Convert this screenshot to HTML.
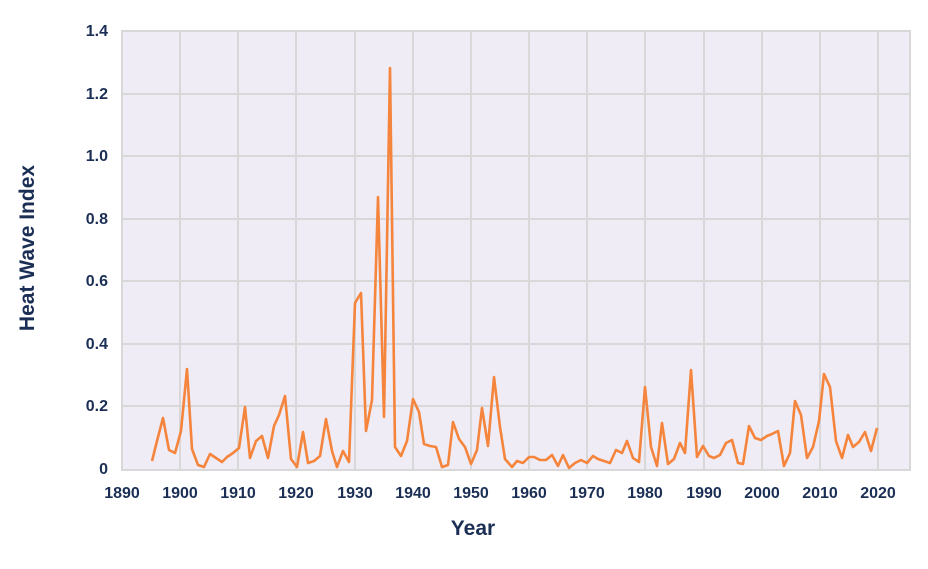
<!DOCTYPE html>
<html><head><meta charset="utf-8"><style>
body{margin:0;background:#fff;}
svg text{font-family:"Liberation Sans",sans-serif;font-weight:bold;fill:#1b2f55;}
</style></head><body>
<svg width="928" height="564" xmlns="http://www.w3.org/2000/svg">
<rect x="122" y="31" width="788" height="439" fill="#efecf5"/>
<g stroke="#d8d8d8" stroke-width="2" fill="none">
<line x1="122" y1="94" x2="910" y2="94"/><line x1="122" y1="156" x2="910" y2="156"/>
<line x1="122" y1="219" x2="910" y2="219"/><line x1="122" y1="281" x2="910" y2="281"/>
<line x1="122" y1="344" x2="910" y2="344"/><line x1="122" y1="406" x2="910" y2="406"/>
<line x1="180" y1="31" x2="180" y2="470"/><line x1="238" y1="31" x2="238" y2="470"/>
<line x1="296" y1="31" x2="296" y2="470"/><line x1="355" y1="31" x2="355" y2="470"/>
<line x1="413" y1="31" x2="413" y2="470"/><line x1="471" y1="31" x2="471" y2="470"/>
<line x1="529" y1="31" x2="529" y2="470"/><line x1="587" y1="31" x2="587" y2="470"/>
<line x1="645" y1="31" x2="645" y2="470"/><line x1="704" y1="31" x2="704" y2="470"/>
<line x1="762" y1="31" x2="762" y2="470"/><line x1="820" y1="31" x2="820" y2="470"/>
<line x1="878" y1="31" x2="878" y2="470"/>
<rect x="122" y="31" width="788" height="439"/>
</g>
<polyline fill="none" stroke="#f5843c" stroke-width="2.6" stroke-linejoin="round" points="152,461 157,441 163,418 169,450 175,453 181,431 187,369 192,449 198,465 204,467 210,454 216,458 222,462 227,457 233,453 239,448 245,407 250,458 256,441 262,436 268,458 274,426 279,415 285,396 291,459 297,467 303,432 308,463 314,461 320,456 326,419 332,451 337,467 343,451 349,462 355,303 361,293 366,431 372,400 378,197 384,417 390,68 395,447 401,456 407,441 413,399 419,412 424,444 430,446 436,447 442,467 448,465 453,422 459,439 465,447 471,464 477,450 482,408 488,446 494,377 500,427 505,459 512,467 517,461 523,463 529,457 534,457 540,460 546,460 552,455 558,466 563,455 569,468 575,463 581,460 587,463 593,456 598,459 604,461 610,463 616,450 622,453 627,441 633,458 639,462 645,387 651,447 657,466 662,423 668,464 674,459 680,443 685,453 691,370 697,457 703,446 709,456 714,458 720,455 726,443 732,440 738,463 743,464 749,426 755,438 761,440 767,436 772,434 778,431 784,466 790,453 795,401 801,415 807,458 813,447 819,421 824,374 830,387 836,441 842,458 848,435 853,447 859,442 865,432 871,451 877,428"/>
<g font-size="16" text-anchor="end">
<text x="108" y="474">0</text><text x="108" y="411">0.2</text><text x="108" y="349">0.4</text>
<text x="108" y="286">0.6</text><text x="108" y="224">0.8</text><text x="108" y="161">1.0</text>
<text x="108" y="99">1.2</text><text x="108" y="36">1.4</text>
</g>
<g font-size="16" text-anchor="middle">
<text x="122" y="498">1890</text><text x="180" y="498">1900</text><text x="238" y="498">1910</text>
<text x="296" y="498">1920</text><text x="355" y="498">1930</text><text x="413" y="498">1940</text>
<text x="471" y="498">1950</text><text x="529" y="498">1960</text><text x="587" y="498">1970</text>
<text x="645" y="498">1980</text><text x="704" y="498">1990</text><text x="762" y="498">2000</text>
<text x="820" y="498">2010</text><text x="878" y="498">2020</text>
</g>
<text x="473" y="535" font-size="21" text-anchor="middle">Year</text>
<text transform="translate(34,248) rotate(-90)" font-size="21" text-anchor="middle">Heat Wave Index</text>
</svg>
</body></html>
